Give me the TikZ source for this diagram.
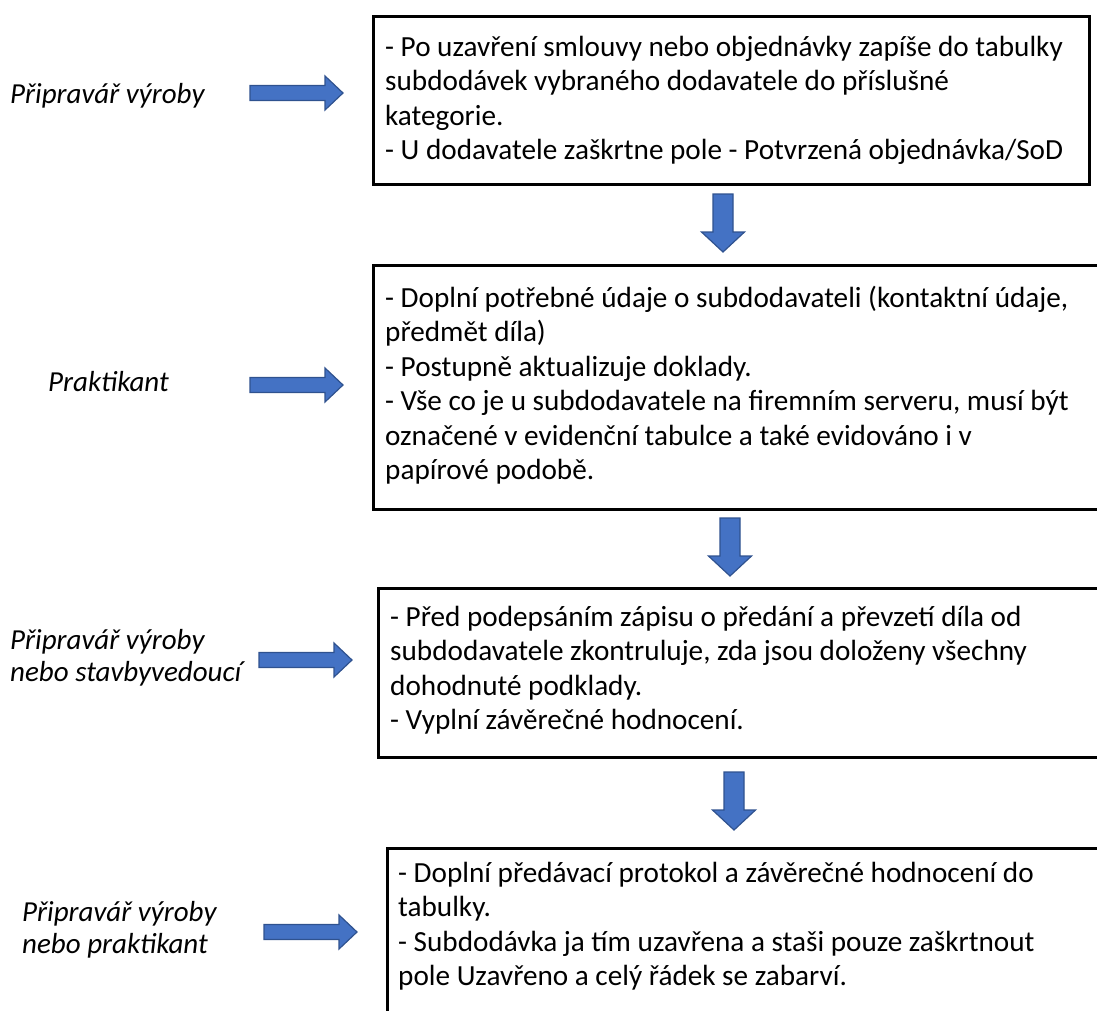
\documentclass[tikz,border=0pt]{standalone}
\usepackage{fontspec}
\setmainfont{Carlito}
\definecolor{arrowblue}{HTML}{4472C4}
\definecolor{arrowedge}{HTML}{2F528F}
\begin{document}
\begin{tikzpicture}[x=1pt,y=-1pt,
  stepbox/.style={draw=black, line width=2.6pt, anchor=north west, inner sep=0pt},
  body/.style={anchor=north west, inner sep=0pt, align=left,
    font=\fontsize{29.2}{34.5}\selectfont},
  role/.style={anchor=north west, inner sep=0pt, align=left,
    font=\fontsize{29}{32}\selectfont\itshape},
  arrowfill/.style={fill=arrowblue, draw=arrowedge, line width=1.2pt, line join=miter},
  rblock/.pic={\path[arrowfill] (0,-7.5) -- (75,-7.5) -- (75,-17) -- (93,0)
    -- (75,17) -- (75,7.5) -- (0,7.5) -- cycle;},
  dblock/.pic={\path[arrowfill] (-10,0) -- (10,0) -- (10,38) -- (21.5,38)
    -- (0,58) -- (-21.5,38) -- (-10,38) -- cycle;}
]
\useasboundingbox (0,0) rectangle (1097,1010);

% step boxes
\node[stepbox, minimum width=716pt, minimum height=168pt] (b1) at (372,15) {};
\node[stepbox, minimum width=740pt, minimum height=244pt] (b2) at (372,264) {};
\node[stepbox, minimum width=740pt, minimum height=169pt] (b3) at (377,587) {};
\node[stepbox, minimum width=740pt, minimum height=200pt] (b4) at (386,847) {};

% box texts
\node[body] (t1) at (385,32) {\strut- Po uzavření smlouvy nebo objednávky zapíše do tabulky\\
  subdodávek vybraného dodavatele do příslušné\\
  kategorie.\\
  - U dodavatele zaškrtne pole - Potvrzená objednávka/SoD};
\node[body] (t2) at (385,283) {\strut- Doplní potřebné údaje o subdodavateli (kontaktní údaje,\\
  předmět díla)\\
  - Postupně aktualizuje doklady.\\
  - Vše co je u subdodavatele na firemním serveru, musí být\\
  označené v evidenční tabulce a také evidováno i v\\
  papírové podobě.};
\node[body] (t3) at (390,602) {\strut- Před podepsáním zápisu o předání a převzetí díla od\\
  subdodavatele zkontruluje, zda jsou doloženy všechny\\
  dohodnuté podklady.\\
  - Vyplní závěrečné hodnocení.};
\node[body] (t4) at (398,858) {\strut- Doplní předávací protokol a závěrečné hodnocení do\\
  tabulky.\\
  - Subdodávka ja tím uzavřena a staši pouze zaškrtnout\\
  pole Uzavřeno a celý řádek se zabarví.};

% roles
\node[role] (r1) at (10,81) {\strut Připravář výroby};
\node[role] (r2) at (48,369) {\strut Praktikant};
\node[role] (r3) at (10,627) {\strut Připravář výroby\\nebo stavbyvedoucí};
\node[role] (r4) at (22,899) {\strut Připravář výroby\\nebo praktikant};

% arrows from roles to boxes
\pic (a1) at (250,93) {rblock};
\pic (a2) at (250,385) {rblock};
\pic (a3) at (259,660) {rblock};
\pic (a4) at (264,932) {rblock};

% arrows between boxes
\pic (d1) at (723,194) {dblock};
\pic (d2) at (730,518) {dblock};
\pic (d3) at (734,772) {dblock};
\end{tikzpicture}
\end{document}
